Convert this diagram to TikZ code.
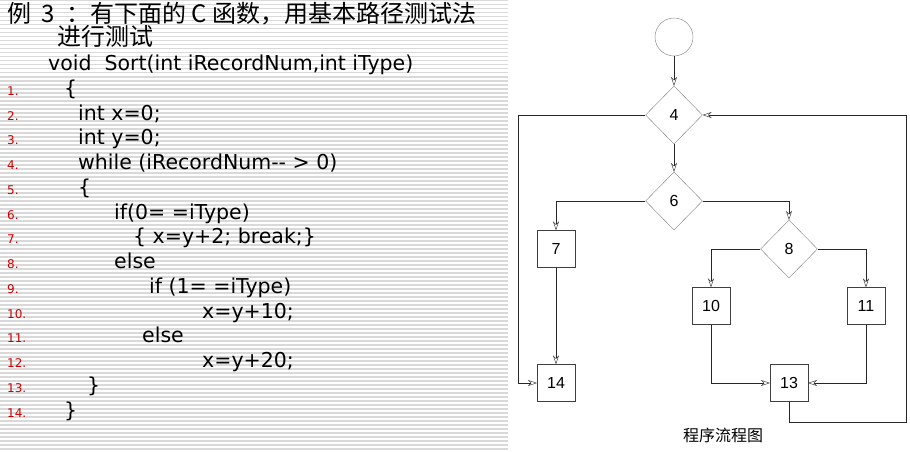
\documentclass[tikz,border=0pt]{standalone}
\usepackage{fontspec}
\setmainfont{DejaVu Sans}
\newfontfamily\cjk{Noto Sans CJK SC}
\newfontfamily\numfont{Liberation Sans}
\usetikzlibrary{shapes.geometric,arrows.meta}
\definecolor{stripe}{HTML}{D9D9D9}
\definecolor{lnred}{HTML}{CC0000}
\definecolor{edgegray}{HTML}{808080}
\definecolor{boxgray}{HTML}{404040}

\begin{document}
\begin{tikzpicture}[x=1pt,y=-1pt,
    code/.style={anchor=base west,inner sep=0pt,font=\fontsize{20.5}{24}\selectfont},
    lnum/.style={anchor=base west,inner sep=0pt,text=lnred,font=\fontsize{12}{14}\selectfont},
    decision/.style={diamond,draw=edgegray,minimum width=57pt,minimum height=58pt,inner sep=0pt,font=\numfont\fontsize{16}{18}\selectfont},
    block/.style={rectangle,draw=boxgray,minimum width=38pt,minimum height=37pt,inner sep=0pt,font=\numfont\fontsize{16}{18}\selectfont},
    flow/.style={draw=black!85,-{Stealth[open,length=9pt,width=6pt,inset=3pt]}},
  ]
    \useasboundingbox (0,0) rectangle (910,452);
    \fill[white] (0,0) rectangle (910,452);

    % lined paper behind the code
    \foreach \y in {0,4,...,448}
        \fill[stripe] (0,\y) rectangle (508,\y+1.5);

    \node[anchor=base west,inner sep=0pt,font=\cjk\fontsize{24}{27}\selectfont] (title) at (7,23) {例\hspace{10pt}3\hspace{12pt}：有下面的 C 函数，用基本路径测试法};
    \node[anchor=base west,inner sep=0pt,font=\cjk\fontsize{24}{27}\selectfont] (title2) at (57,46) {进行测试};

    \foreach \n in {1,...,14}
        \node[lnum] (ln\n) at (7,{120+(\n-2)*24.75}) {\n.};

    \node[code] (c0) at (48,70.5) {void\ \ Sort(int iRecordNum,int iType)};
    \node[code] (c1) at (64,95.25) {\{};
    \node[code] (c2) at (78,120) {int x=0;};
    \node[code] (c3) at (78,144.75) {int y=0;};
    \node[code] (c4) at (78,169.5) {while (iRecordNum-{}- > 0)};
    \node[code] (c5) at (78,194.25) {\{};
    \node[code] (c6) at (114,219) {if(0= =iType)};
    \node[code] (c7) at (133,243.75) {\{ x=y+2; break;\}};
    \node[code] (c8) at (114,268.5) {else};
    \node[code] (c9) at (149,293.25) {if (1= =iType)};
    \node[code] (c10) at (202,318) {x=y+10;};
    \node[code] (c11) at (142,342.75) {else};
    \node[code] (c12) at (202,367.5) {x=y+20;};
    \node[code] (c13) at (87,392.25) {\}};
    \node[code] (c14) at (64,417) {\}};

    % flow graph
    \node[circle,draw=edgegray,minimum size=38pt,inner sep=0pt] (start) at (674,37) {};
    \node[decision] (d4) at (674,115) {4};
    \node[decision] (d6) at (674,201) {6};
    \node[decision] (d8) at (789,249) {8};
    \node[block] (b7) at (556,249) {7};
    \node[block] (b14) at (556,383) {14};
    \node[block] (b10) at (711,306) {10};
    \node[block] (b11) at (866,306) {11};
    \node[block] (b13) at (789,383) {13};
    \coordinate (loopL) at (518,115);
    \coordinate (loopR) at (906,422);

    \draw[flow] (start) -- (d4);
    \draw[flow] (d4) -- (d6);
    \draw[flow] (d4.west) -- (loopL) |- (b14.west);
    \draw[flow] (d6.west) -| (b7.north);
    \draw[flow] (d6.east) -| (d8.north);
    \draw[flow] (d8.west) -| (b10.north);
    \draw[flow] (d8.east) -| (b11.north);
    \draw[flow] (b7) -- (b14);
    \draw[flow] (b10.south) |- (b13.west);
    \draw[flow] (b11.south) |- (b13.east);
    \draw[flow] (b13.south) |- (loopR) |- (d4.east);

    \node[font=\cjk\fontsize{16}{18}\selectfont] (caption) at (723,435) {程序流程图};
\end{tikzpicture}
\end{document}
